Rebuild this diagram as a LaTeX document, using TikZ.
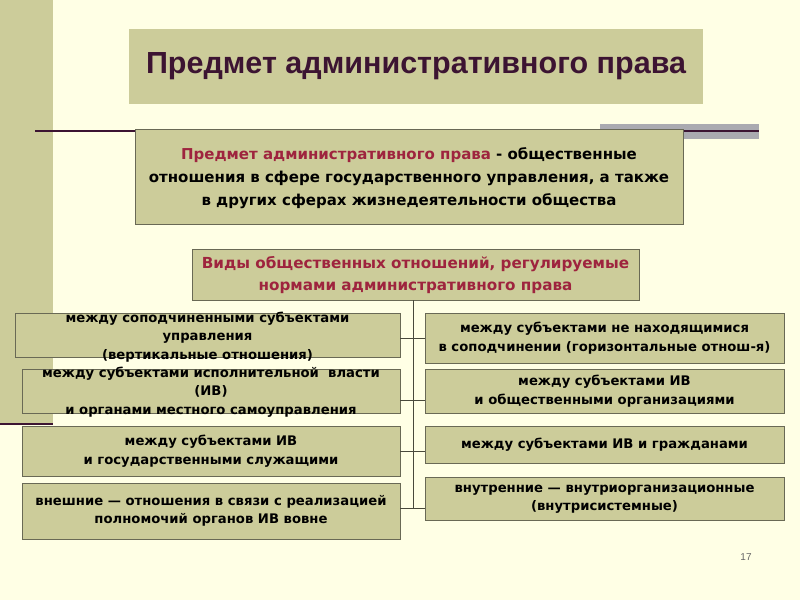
\documentclass[tikz,border=0pt]{standalone}
\usepackage{fontspec}
\setmainfont{DejaVu Sans}
\newfontfamily\headfont{Liberation Sans}
\usepackage{tikz}

\definecolor{paper}{RGB}{255,255,229}
\definecolor{olive}{RGB}{204,204,154}
\definecolor{rule}{RGB}{60,20,50}
\definecolor{band}{RGB}{170,170,176}
\definecolor{accent}{RGB}{158,36,62}
\definecolor{edge}{RGB}{105,105,85}

\begin{document}
\begin{tikzpicture}[x=1pt,y=-1pt,
		box/.style={draw=edge,fill=olive,line width=0.9pt,inner sep=0pt},
		txt/.style={align=center,inner sep=0pt,font=\bfseries\fontsize{13.2}{18.5}\selectfont},
		big/.style={align=center,inner sep=0pt,font=\bfseries\fontsize{15}{23}\selectfont}]
			\useasboundingbox (0,0) rectangle (800,600);
			\fill[paper] (0,0) rectangle (800,600);
			% side band and rules
			\fill[olive] (0,0) rectangle (53,424);
			\draw[rule,line width=2.5pt] (0,424) -- (53,424);
			\draw[rule,line width=1.5pt] (35,131) -- (136,131);
			\fill[band] (600,124) rectangle (759,139);
			\draw[rule,line width=1.5pt] (600,131) -- (759,131);
			% title
			\node[fill=olive,minimum width=574,minimum height=75,text=rule,
				font=\headfont\bfseries\fontsize{30.5}{34}\selectfont] (title) at (416,66.5) {Предмет административного права};
			% definition
			\node[box,minimum width=548,minimum height=95] (def) at (409,176.5) {};
			\node[big] (deft) at (409,178) {\textcolor{accent}{Предмет административного права} - общественные\\отношения в сфере государственного управления, а также\\в других сферах жизнедеятельности общества};
			\node[box,minimum width=447,minimum height=51] (kinds) at (415.5,274.5) {};
			\node[big,text=accent,font=\bfseries\fontsize{15.2}{22}\selectfont] (kindst) at (415.5,275) {Виды общественных отношений, регулируемые\\нормами административного права};
			% left column
			\node[box,minimum width=385,minimum height=44] (l1) at (207.5,335) {};
			\node[box,minimum width=378,minimum height=44] (l2) at (211,391) {};
			\node[box,minimum width=378,minimum height=50] (l3) at (211,451) {};
			\node[box,minimum width=378,minimum height=56] (l4) at (211,511) {};
			\node[txt] (l1t) at (207.5,337) {между соподчиненными субъектами\\управления\\(вертикальные отношения)};
			\node[txt] (l2t) at (211,392) {между субъектами исполнительной~~власти\\(ИВ)\\и органами местного самоуправления};
			\node[txt] (l3t) at (211,451) {между субъектами ИВ\\и государственными служащими};
			\node[txt] (l4t) at (211,511) {внешние — отношения в связи с реализацией\\полномочий органов ИВ вовне};
			% right column
			\node[box,minimum width=359,minimum height=50] (r1) at (604.5,338) {};
			\node[box,minimum width=359,minimum height=44] (r2) at (604.5,391) {};
			\node[box,minimum width=359,minimum height=37] (r3) at (604.5,444.5) {};
			\node[box,minimum width=359,minimum height=43] (r4) at (604.5,498.5) {};
			\node[txt] (r1t) at (604.5,338) {между субъектами не находящимися\\в соподчинении (горизонтальные отнош-я)};
			\node[txt] (r2t) at (604.5,391) {между субъектами ИВ\\и общественными организациями};
			\node[txt] (r3t) at (604.5,445) {между субъектами ИВ и гражданами};
			\node[txt] (r4t) at (604.5,499) {внутренние — внутриорганизационные\\(внутрисистемные)};
			% trunk and branches
			\coordinate (j1) at (413,338);
			\coordinate (j2) at (413,400);
			\coordinate (j3) at (413,451);
			\coordinate (j4) at (413,508);
			\draw[edge!70!black,line width=0.9pt] (kinds.south -| j1) -- (j4);
			\draw[edge!70!black,line width=0.9pt] (l1.east |- j1) -- (r1.west |- j1);
			\draw[edge!70!black,line width=0.9pt] (l2.east |- j2) -- (r2.west |- j2);
			\draw[edge!70!black,line width=0.9pt] (l3.east |- j3) -- (r3.west |- j3);
			\draw[edge!70!black,line width=0.9pt] (l4.east |- j4) -- (r4.west |- j4);
			\node[text=black!60,font=\headfont\fontsize{10}{12}\selectfont] (page) at (746,557) {17};
		\end{tikzpicture}
\end{document}
